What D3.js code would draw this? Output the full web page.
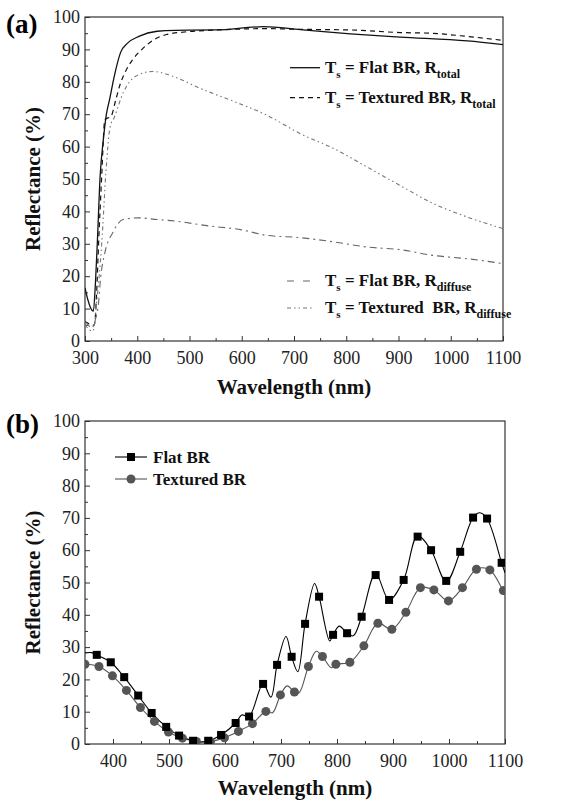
<!DOCTYPE html>
<html>
<head>
<meta charset="utf-8">
<script src="https://cdn.jsdelivr.net/npm/d3@7"></script>
<style>
  body { margin: 0; background: #fff; }
  text { font-family: "Liberation Serif", "Times New Roman", serif; }
</style>
</head>
<body>
<svg id="chart" width="563" height="812"></svg>
<script>
// ---- panel (a) data: wavelength (nm) / reflectance (%) ----
const flatTotalWl = [300, 305, 310, 316, 320, 323.5, 329, 335, 341, 347, 356, 368, 382, 403, 438, 473, 550, 642, 712, 808, 903, 1032, 1100];
const flatTotalR  = [16.4, 13, 10.5, 9.2, 18, 30, 51, 62, 70, 74.5, 81.7, 89, 92, 94, 95.6, 95.9, 96, 97, 96.1, 94.8, 93.8, 92.6, 91.5];

const texTotalWl = [300, 306, 312, 318, 322, 326, 332, 338, 350, 359, 368, 376, 391, 409, 432, 456, 500, 552, 648, 712, 808, 903, 960, 1032, 1100];
const texTotalR  = [6, 5.5, 4.8, 5, 14, 30, 51, 68.3, 69.4, 74.5, 79.6, 82.7, 86.8, 90, 93, 94.6, 95.5, 96, 96.4, 96.2, 96, 95.2, 95, 94, 92.8];

const flatDiffWl = [300, 306, 313, 320, 326, 329, 338, 353, 373, 403, 438, 473, 533, 600, 648, 712, 776, 840, 903, 967, 1031, 1100];
const flatDiffR  = [6, 5, 4, 6.7, 11.8, 18, 27.2, 33.4, 37.5, 38, 37.5, 37, 35.6, 34.3, 32.6, 31.9, 30.6, 29, 28.2, 26.4, 25.4, 23.9];

const texDiffWl = [300, 308, 315, 323, 332, 340, 348, 356, 373, 397, 429, 468, 520, 584, 648, 712, 776, 840, 903, 967, 1031, 1100];
const texDiffR  = [5, 3.5, 3, 13, 30, 52, 66, 69, 76.6, 81.7, 83.2, 81.7, 78, 74, 69.7, 64, 59.4, 53.7, 48, 42.4, 38.3, 34.7];

// ---- panel (b) data ----
const flatLineWl = [350, 362, 371, 396, 420, 445, 469, 495, 518, 543, 557, 570, 593, 619, 630, 643, 668, 682, 693, 709, 719, 730, 743, 760, 768, 787, 793, 804, 818, 829, 844, 869, 893, 919, 944, 968, 995, 1020, 1043, 1055, 1068, 1094, 1100];
const flatLineR  = [28.2, 28.3, 27.6, 25.3, 20.7, 15, 9.6, 5.3, 2.6, 1, 0.6, 1, 2.8, 6.5, 9, 8.5, 18.6, 14.5, 24.5, 33.3, 27, 22.4, 37.2, 49.7, 45.6, 31.9, 33.8, 36.5, 34.3, 33.5, 39.4, 52.8, 44.6, 50.8, 64.5, 60, 50.3, 59.5, 70.1, 71.6, 69.8, 56.1, 53];

const flatMarkWl = [371, 396, 420, 445, 469, 495, 518, 543, 570, 593, 619, 643, 668, 693, 719, 743, 768, 793, 818, 844, 869, 893, 919, 944, 968, 995, 1020, 1043, 1068, 1094];
const flatMarkR  = [27.6, 25.3, 20.7, 15, 9.6, 5.3, 2.6, 1, 1, 2.8, 6.5, 8.5, 18.6, 24.5, 27, 37.2, 45.6, 33.8, 34.3, 39.4, 52.3, 44.6, 50.8, 64.2, 60, 50.5, 59.5, 70.1, 69.8, 56.1];

const texLineWl = [350, 375, 399, 424, 449, 474, 499, 524, 549, 562, 574, 599, 624, 649, 673, 685, 699, 711, 724, 732, 749, 763, 774, 790, 798, 823, 848, 873, 898, 923, 949, 973, 999, 1024, 1049, 1073, 1097, 1100];
const texLineR  = [24.7, 24, 21.1, 16.6, 11.3, 7, 3.7, 1.8, 0.8, 0.6, 0.8, 1.9, 3.9, 6.3, 10.1, 9.7, 15.2, 18, 16.1, 15.8, 24, 28.7, 27.1, 23.6, 24.7, 25.3, 30.4, 37.4, 35.5, 40.8, 48.4, 47.7, 44.3, 48.4, 54.1, 53.9, 47.5, 47];

const texMarkWl = [350, 375, 399, 424, 449, 474, 499, 524, 549, 574, 599, 624, 649, 673, 699, 724, 749, 774, 798, 823, 848, 873, 898, 923, 949, 973, 999, 1024, 1049, 1073, 1097];
const texMarkR  = [24.7, 24, 21.1, 16.6, 11.3, 7, 3.7, 1.8, 0.8, 0.8, 1.9, 3.9, 6.3, 10.1, 15.2, 16.1, 24, 27.1, 24.7, 25.3, 30.4, 37.4, 35.5, 40.8, 48.4, 47.7, 44.3, 48.4, 54.1, 53.9, 47.5];

const svg = d3.select("#chart");
const zip = (xs, ys) => xs.map((x, i) => [x, ys[i]]);

// frame, inward ticks, labels
function drawAxes(g, x, y, w, h, xMajor, xMinor, yMajor, yMinor, clipId) {
    g.append("g")
        .attr("transform", `translate(0,${h})`)
        .call(d3.axisBottom(x).tickValues(xMajor).tickSize(-5).tickPadding(10).tickFormat(d3.format("d")))
        .call(a => a.select(".domain").remove())
        .selectAll("text").attr("font-size", 18).attr("fill", "#222")
        .style("font-family", "'Liberation Serif', serif");
    g.append("g")
        .attr("transform", `translate(0,${h})`)
        .call(d3.axisBottom(x).tickValues(xMinor).tickSize(-3).tickFormat(""))
        .call(a => a.select(".domain").remove());
    g.append("g")
        .call(d3.axisLeft(y).tickValues(yMajor).tickSize(-5).tickPadding(5))
        .call(a => a.select(".domain").remove())
        .selectAll("text").attr("font-size", 18).attr("fill", "#222")
        .style("font-family", "'Liberation Serif', serif");
    g.append("g")
        .call(d3.axisLeft(y).tickValues(yMinor).tickSize(-3).tickFormat(""))
        .call(a => a.select(".domain").remove());
    g.selectAll(".tick line").attr("stroke", "#333");
    g.append("rect")
        .attr("width", w).attr("height", h)
        .attr("fill", "none").attr("stroke", "#333").attr("stroke-width", 1.2);
    g.append("clipPath").attr("id", clipId)
        .append("rect").attr("width", w).attr("height", h);
}

// ================= panel (a) =================
const aL = 85, aT = 17, aW = 418, aH = 324;
const gA = svg.append("g").attr("transform", `translate(${aL},${aT})`);
const xA = d3.scaleLinear().domain([300, 1100]).range([0, aW]);
const yA = d3.scaleLinear().domain([0, 100]).range([aH, 0]);

drawAxes(gA, xA, yA, aW, aH, d3.range(300, 1101, 100), d3.range(350, 1100, 100),
    d3.range(0, 101, 10), d3.range(5, 100, 10), "clipA");

const lineA = d3.line().x(d => xA(d[0])).y(d => yA(d[1])).curve(d3.curveMonotoneX);

const seriesA = [
    { data: zip(flatTotalWl, flatTotalR), color: "#111", dash: null, w: 1.3 },
    { data: zip(texTotalWl, texTotalR), color: "#111", dash: "5,4", w: 1.2 },
    { data: zip(flatDiffWl, flatDiffR), color: "#666", dash: "7,4,2,4", w: 1.1 },
    { data: zip(texDiffWl, texDiffR), color: "#777", dash: "4,3,1.5,3,1.5,3", w: 1.1 }
];

gA.append("g").attr("clip-path", "url(#clipA)")
    .selectAll("path")
    .data(seriesA)
    .enter().append("path")
    .attr("d", d => lineA(d.data))
    .attr("fill", "none")
    .attr("stroke", d => d.color)
    .attr("stroke-width", d => d.w)
    .attr("stroke-dasharray", d => d.dash);

// legend (a)
const legA = [
    { y: 67.7, x1: 290, x2: 320, s: seriesA[0], main: " = Flat BR, R", sub: "total" },
    { y: 97.7, x1: 290, x2: 320, s: seriesA[1], main: " = Textured BR, R", sub: "total" },
    { y: 281, x1: 287, x2: 312, s: { color: "#666", dash: "7,9", w: 1.1 }, main: " = Flat BR, R", sub: "diffuse" },
    { y: 308, x1: 287, x2: 312, s: seriesA[3], main: " = Textured  BR, R", sub: "diffuse" }
];
legA.forEach(d => {
    svg.append("line")
        .attr("x1", d.x1).attr("x2", d.x2).attr("y1", d.y).attr("y2", d.y)
        .attr("stroke", d.s.color).attr("stroke-width", d.s.w)
        .attr("stroke-dasharray", d.s.dash);
    const t = svg.append("text")
        .attr("x", 325).attr("y", d.y + 5)
        .attr("font-size", 17).attr("font-weight", "bold").attr("fill", "#111")
        .attr("xml:space", "preserve");
    t.append("tspan").text("T");
    t.append("tspan").attr("dy", 5).attr("font-size", 11).text("s");
    t.append("tspan").attr("dy", -5).text(d.main);
    t.append("tspan").attr("dy", 5).attr("font-size", 12).text(d.sub);
});

svg.append("text").attr("x", 6).attr("y", 33)
    .attr("font-size", 27).attr("font-weight", "bold").text("(a)");
svg.append("text")
    .attr("transform", `translate(40,${aT + aH / 2}) rotate(-90)`)
    .attr("text-anchor", "middle")
    .attr("font-size", 21).attr("font-weight", "bold").attr("fill", "#111")
    .text("Reflectance (%)");
svg.append("text")
    .attr("x", aL + aW / 2).attr("y", 394)
    .attr("text-anchor", "middle")
    .attr("font-size", 21).attr("font-weight", "bold").attr("fill", "#111")
    .text("Wavelength (nm)");

// ================= panel (b) =================
const bL = 85, bT = 421, bW = 420, bH = 323;
const gB = svg.append("g").attr("transform", `translate(${bL},${bT})`);
const xB = d3.scaleLinear().domain([350, 1100]).range([0, bW]);
const yB = d3.scaleLinear().domain([0, 100]).range([bH, 0]);

drawAxes(gB, xB, yB, bW, bH, d3.range(400, 1101, 100), d3.range(450, 1100, 100),
    d3.range(0, 101, 10), d3.range(5, 100, 10), "clipB");

const lineB = d3.line().x(d => xB(d[0])).y(d => yB(d[1])).curve(d3.curveCatmullRom.alpha(0.5));
const plotB = gB.append("g").attr("clip-path", "url(#clipB)");

plotB.append("path")
    .attr("d", lineB(zip(texLineWl, texLineR)))
    .attr("fill", "none").attr("stroke", "#555").attr("stroke-width", 1.1);
plotB.append("path")
    .attr("d", lineB(zip(flatLineWl, flatLineR)))
    .attr("fill", "none").attr("stroke", "#000").attr("stroke-width", 1.1);

plotB.selectAll(".tex")
    .data(zip(texMarkWl, texMarkR))
    .enter().append("circle")
    .attr("class", "tex")
    .attr("cx", d => xB(d[0])).attr("cy", d => yB(d[1]))
    .attr("r", 4.5).attr("fill", "#555");

plotB.selectAll(".flat")
    .data(zip(flatMarkWl, flatMarkR))
    .enter().append("rect")
    .attr("class", "flat")
    .attr("x", d => xB(d[0]) - 4).attr("y", d => yB(d[1]) - 4)
    .attr("width", 8).attr("height", 8).attr("fill", "#000");

// legend (b)
svg.append("line").attr("x1", 115).attr("x2", 147).attr("y1", 457).attr("y2", 457)
    .attr("stroke", "#000").attr("stroke-width", 1.1);
svg.append("rect").attr("x", 127).attr("y", 453).attr("width", 8).attr("height", 8).attr("fill", "#000");
svg.append("text").attr("x", 153).attr("y", 463)
    .attr("font-size", 17).attr("font-weight", "bold").attr("fill", "#111").text("Flat BR");
svg.append("line").attr("x1", 115).attr("x2", 147).attr("y1", 479).attr("y2", 479)
    .attr("stroke", "#555").attr("stroke-width", 1.1);
svg.append("circle").attr("cx", 131).attr("cy", 479).attr("r", 4.5).attr("fill", "#555");
svg.append("text").attr("x", 153).attr("y", 485)
    .attr("font-size", 17).attr("font-weight", "bold").attr("fill", "#111").text("Textured BR");

svg.append("text").attr("x", 6).attr("y", 433)
    .attr("font-size", 27).attr("font-weight", "bold").text("(b)");
svg.append("text")
    .attr("transform", `translate(40,${bT + bH / 2}) rotate(-90)`)
    .attr("text-anchor", "middle")
    .attr("font-size", 21).attr("font-weight", "bold").attr("fill", "#111")
    .text("Reflectance (%)");
svg.append("text")
    .attr("x", bL + bW / 2).attr("y", 795)
    .attr("text-anchor", "middle")
    .attr("font-size", 21).attr("font-weight", "bold").attr("fill", "#111")
    .text("Wavelength (nm)");
</script>
</body>
</html>
